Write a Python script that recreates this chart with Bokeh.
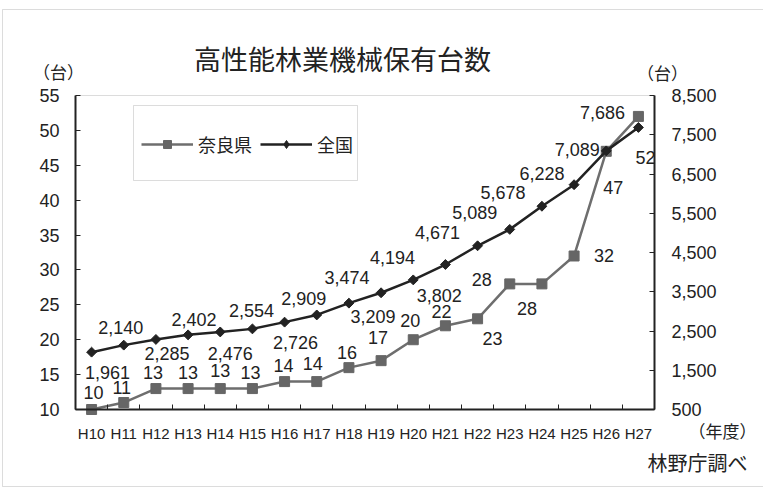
import math

from bokeh.core.properties import value
from bokeh.embed import file_html
from bokeh.models import (BoxAnnotation, FixedTicker, Label, Legend, LegendItem,
                          LinearAxis, NumeralTickFormatter, Range1d)
from bokeh.plotting import figure
from bokeh.resources import INLINE

# 年度
years = ["H10", "H11", "H12", "H13", "H14", "H15", "H16", "H17", "H18",
         "H19", "H20", "H21", "H22", "H23", "H24", "H25", "H26", "H27"]
# 奈良県の保有台数（左軸）
nara = [10, 11, 13, 13, 13, 13, 14, 14, 16, 17, 20, 22, 23, 28, 28, 32, 47, 52]
# 全国の保有台数（右軸）
zenkoku = [1961, 2140, 2285, 2402, 2476, 2554, 2726, 2909, 3209, 3474,
           3802, 4194, 4671, 5089, 5678, 6228, 7089, 7686]

left_ticks = [10, 15, 20, 25, 30, 35, 40, 45, 50, 55]
right_ticks = [500, 1500, 2500, 3500, 4500, 5500, 6500, 7500, 8500]

# data label offsets in pixels (right / down positive)
zen_dx = [16, -3, 11, 6, 10, -1, 11, -13, 24, -34, 26, -53, -40, -35, -39, -32, -29, -36]
zen_dy = [20, -18, 14, -15, 22, -18, 20, -16, 13, -15, 16, -7, -13, -17, -14, -11, -1, -15]
nara_dx = [2, -2, -3, 0, 0, -2, -1, -4, -2, -3, -3, -4, 15, -28, -15, 30, 7, 7]
nara_dy = [-17, -15, -16, -16, -18, -16, -16, -18, -15, -23, -19, -14, 20, -4, 25, 0, 36, 41]

NUM_FONT = "Liberation Sans"
JP_FONT = "Noto Sans CJK JP"
INK = "#222222"
GRAY = "#6e6e6e"
FRAME_GRAY = "#8a8a8a"

# page size and the plotting box inside it (pixels from the top-left)
W, H = 763, 489
BOX_L, BOX_R, BOX_T, BOX_B = 75, 654, 95, 409

n = len(years)
y_lo, y_hi = left_ticks[0], left_ticks[-1]
r_lo, r_hi = right_ticks[0], right_ticks[-1]

# the frame fills the whole page; ranges are widened so that the data box
# lands on the plotting box, and the axes are pinned to its edges
px_x = (BOX_R - BOX_L) / n
px_y = (BOX_B - BOX_T) / (y_hi - y_lo)
px_r = (BOX_B - BOX_T) / (r_hi - r_lo)
x_range = Range1d(-BOX_L / px_x, n + (W - BOX_R) / px_x)
y_range = Range1d(y_lo - (H - BOX_B) / px_y, y_hi + BOX_T / px_y)
r_range = Range1d(r_lo - (H - BOX_B) / px_r, r_hi + BOX_T / px_r)

xs = [i + 0.5 for i in range(n)]

p = figure(width=W, height=H, output_backend="svg", toolbar_location=None,
           x_range=x_range, y_range=y_range, min_border=0,
           min_border_left=0, min_border_right=0, min_border_top=0,
           min_border_bottom=0, background_fill_color="white",
           border_fill_color="white")
p.extra_y_ranges = {"right": r_range}

p.xgrid.visible = False
p.ygrid.visible = False
p.outline_line_color = None

# bottom axis: labels centred on each year, tick marks on the boundaries
xa = p.xaxis[0]
xa.fixed_location = y_lo
xa.bounds = (0, n)
xa.ticker = FixedTicker(ticks=xs, minor_ticks=list(range(n + 1)))
xa.major_label_overrides = {x: y for x, y in zip(xs, years)}
xa.major_tick_in = 0
xa.major_tick_out = 0
xa.minor_tick_in = 5
xa.minor_tick_out = 0
xa.minor_tick_line_color = INK
xa.axis_line_color = INK
xa.axis_line_width = 2
xa.major_label_standoff = 15
xa.major_label_text_font = NUM_FONT
xa.major_label_text_font_size = "15px"
xa.major_label_text_color = INK

ya = p.yaxis[0]
ya.fixed_location = 0
ya.bounds = (y_lo, y_hi)
ya.ticker = FixedTicker(ticks=left_ticks)
ya.major_tick_in = 5
ya.major_tick_out = 0
ya.minor_tick_line_color = None
ya.major_tick_line_color = INK
ya.axis_line_color = INK
ya.axis_line_width = 2
ya.major_label_standoff = 16
ya.major_label_text_font = NUM_FONT
ya.major_label_text_font_size = "18px"
ya.major_label_text_color = INK

ra = LinearAxis(y_range_name="right", ticker=FixedTicker(ticks=right_ticks),
                formatter=NumeralTickFormatter(format="0,0"))
ra.fixed_location = n
ra.bounds = (r_lo, r_hi)
ra.major_tick_in = 5
ra.major_tick_out = 0
ra.minor_tick_line_color = None
ra.major_tick_line_color = INK
ra.axis_line_color = INK
ra.axis_line_width = 2
ra.major_label_standoff = 17
ra.major_label_text_font = NUM_FONT
ra.major_label_text_font_size = "18px"
ra.major_label_text_color = INK
p.add_layout(ra, "right")

# thin grey box around the plotting area (the axes cover three sides)
p.add_layout(BoxAnnotation(left=0, right=n, bottom=y_lo, top=y_hi,
                           fill_alpha=0, line_color=FRAME_GRAY, line_width=1,
                           level="underlay"))

# series
nl = p.line(xs, nara, line_color=GRAY, line_width=2.5)
nm = p.scatter(xs, nara, marker="square", size=10, fill_color="#666666",
               line_color="#666666")
zl = p.line(xs, zenkoku, y_range_name="right", line_color=INK, line_width=2.5)
zm = p.scatter(xs, zenkoku, y_range_name="right", marker="square", size=7,
               angle=math.pi / 4, fill_color=INK, line_color=INK)
# diamond key for the legend entry; its single point sits outside the page
zkey = p.scatter(x=[x_range.start - 5], y=[r_lo], y_range_name="right",
                 marker="diamond", size=10, fill_color=INK, line_color=INK)

# data labels
p.text(xs, zenkoku, text=[f"{v:,}" for v in zenkoku], y_range_name="right",
       x_offset=zen_dx, y_offset=zen_dy, text_align="center",
       text_baseline="middle", text_font=value(NUM_FONT),
       text_font_size="18px", text_color=INK)
p.text(xs, nara, text=[str(v) for v in nara],
       x_offset=nara_dx, y_offset=nara_dy, text_align="center",
       text_baseline="middle", text_font=value(NUM_FONT),
       text_font_size="18px", text_color=INK)

# legend: a framed box with the two entries in one row
p.add_layout(BoxAnnotation(left=133, right=357, top=H - 105, bottom=H - 180,
                           left_units="screen", right_units="screen",
                           top_units="screen", bottom_units="screen",
                           fill_color="white", fill_alpha=1,
                           line_color=FRAME_GRAY, line_width=1))
legend = Legend(items=[LegendItem(label="奈良県", renderers=[nl, nm]),
                       LegendItem(label="全国", renderers=[zl, zkey])],
                orientation="horizontal", location=(141, H - 145 - 12),
                glyph_width=52, glyph_height=20, label_standoff=5,
                label_height=20, spacing=8, padding=0, margin=0,
                border_line_color=None, background_fill_alpha=0,
                label_text_font=JP_FONT, label_text_font_size="18px",
                label_text_color=INK)
p.add_layout(legend)


# title and unit notes (screen units, y measured up from the bottom edge)
def note(x, y, text, size):
    p.add_layout(Label(x=x, y=H - y, x_units="screen", y_units="screen",
                       text=text, text_align="center", text_baseline="middle",
                       text_font=JP_FONT, text_font_size=size,
                       text_color=INK))


note(342, 58, "高性能林業機械保有台数", "27px")
note(58, 71, "（台）", "17px")
note(662, 72, "（台）", "17px")
note(722, 430, "（年度）", "17px")
note(697, 462, "林野庁調べ", "20px")

# outer frame line of the page
p.add_layout(BoxAnnotation(left=2, right=W + 10, top=H - 9, bottom=H - 486,
                           left_units="screen", right_units="screen",
                           top_units="screen", bottom_units="screen",
                           fill_alpha=0, line_color=FRAME_GRAY, line_width=1,
                           level="underlay"))

open("out.html", "w").write(file_html(p, INLINE))
